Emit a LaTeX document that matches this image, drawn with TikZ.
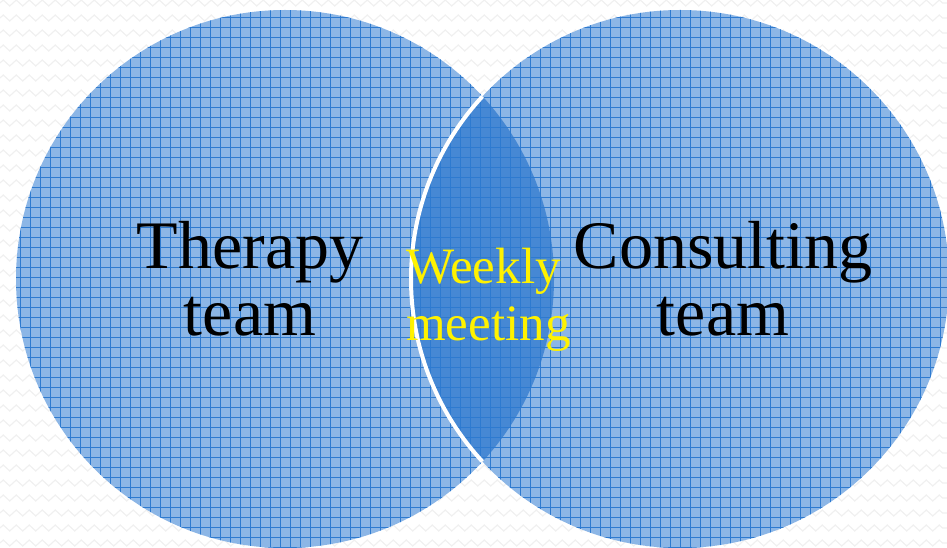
\documentclass[tikz,border=0pt]{standalone}
\usepackage{fontspec}
\setmainfont{Liberation Serif}
\usetikzlibrary{decorations.pathmorphing}
\definecolor{circblue}{RGB}{140,182,230}
\definecolor{gridblue}{RGB}{45,122,208}
\definecolor{lensblue}{RGB}{70,136,212}
\definecolor{zigzaggray}{RGB}{240,240,240}
\tikzset{
  teamlabel/.style={font=\fontsize{68}{67}\selectfont, align=center, inner sep=0pt, text=black},
  meetlabel/.style={font=\fontsize{51}{57}\selectfont, align=left, inner sep=0pt, text=yellow},
}
\begin{document}
\begin{tikzpicture}[x=1pt,y=1pt]
\useasboundingbox (0,0) rectangle (947,547);
% background pattern
\foreach \row in {4,19,...,547}
  \draw[zigzaggray, line width=1.2pt, decorate, decoration={zigzag, segment length=13pt, amplitude=3pt}] (0,\row) -- (947,\row);
\coordinate (lc) at (285,268);
\coordinate (rc) at (680,268);
\fill[circblue] (lc) circle (269); % Therapy team
\fill[circblue] (rc) circle (269); % Consulting team
\begin{scope}
  \clip (lc) circle (269);
  \fill[lensblue] (rc) circle (269); % overlap
\end{scope}
\foreach \c in {lc,rc} {
  \begin{scope}
    \clip (\c) circle (269);
    \draw[gridblue, line width=0.75pt, step=10pt] (-5,0) grid (955,550);
  \end{scope}
}
\begin{scope}
  \clip (lc) circle (269);
  \draw[white, line width=4pt] (rc) circle (269);
\end{scope}
\node[teamlabel] (therapy) at (250,268) {Therapy\\team};
\node[teamlabel] (consulting) at (723,268) {Consulting\\team};
\node[meetlabel, anchor=west] (meeting) at (406,247) {Weekly\\meeting};
\end{tikzpicture}
\end{document}
